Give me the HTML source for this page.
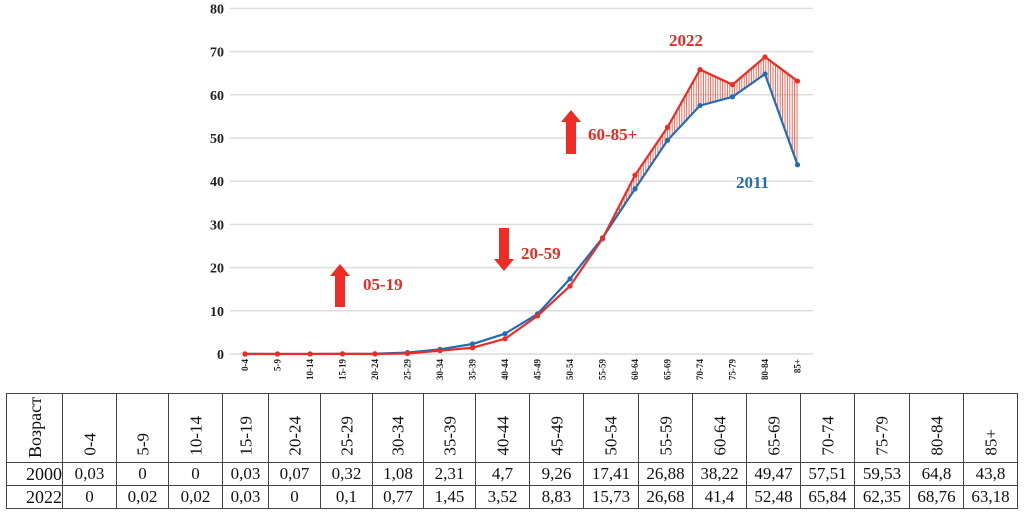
<!DOCTYPE html>
<html><head><meta charset="utf-8"><style>
body{margin:0;background:#fff;width:1024px;height:518px;overflow:hidden;font-family:"Liberation Serif",serif}
svg{position:absolute;left:0;top:0}
table{position:absolute;left:6px;top:393px;border-collapse:collapse;font-family:"Liberation Serif",serif;font-size:17px;table-layout:fixed}
td{border:1px solid #444;padding:0;text-align:center;color:#111;font-family:"Liberation Serif",serif;overflow:hidden;white-space:nowrap}
.hb{height:68px;position:relative;overflow:hidden}
.db{height:22px;line-height:22px;overflow:hidden}
.rot{position:absolute;left:50%;bottom:6px;writing-mode:vertical-rl;transform:translateX(-50%) rotate(180deg);font-family:"Liberation Serif",serif;font-size:17px;line-height:1}
.rot.top{bottom:auto;top:3px;font-size:18px}
</style></head><body>
<svg id="chart" width="1024" height="390"></svg>
<table id="tbl"></table>
<script>
const categories=["0-4","5-9","10-14","15-19","20-24","25-29","30-34","35-39","40-44","45-49","50-54","55-59","60-64","65-69","70-74","75-79","80-84","85+"];
const series2000=[0.03,0,0,0.03,0.07,0.32,1.08,2.31,4.7,9.26,17.41,26.88,38.22,49.47,57.51,59.53,64.8,43.8];
const series2022=[0,0.02,0.02,0.03,0,0.1,0.77,1.45,3.52,8.83,15.73,26.68,41.4,52.48,65.84,62.35,68.76,63.18];
const label2000=["0,03","0","0","0,03","0,07","0,32","1,08","2,31","4,7","9,26","17,41","26,88","38,22","49,47","57,51","59,53","64,8","43,8"];
const label2022=["0","0,02","0,02","0,03","0","0,1","0,77","1,45","3,52","8,83","15,73","26,68","41,4","52,48","65,84","62,35","68,76","63,18"];
const yTicks=[0,10,20,30,40,50,60,70,80];
const colW=[56,54,52,54,46,52,52,51,52,54,54,55,54,54,54,54,55,54,54];
const NS="http://www.w3.org/2000/svg";
const svg=document.getElementById('chart');
const x=i=>245+i*32.5;
const y=v=>354-v*4.32;
function mk(t,a,p){const e=document.createElementNS(NS,t);for(const k in a)e.setAttribute(k,a[k]);(p||svg).appendChild(e);return e;}
yTicks.forEach(v=>{
 const l=mk('line',{x1:230,x2:813,y1:y(v),y2:y(v),stroke:'#dcdcdc','stroke-width':1.5});
 
 
 const t=mk('text',{x:224,y:y(v)+5,'text-anchor':'end','font-size':14,'font-weight':'bold',fill:'#222'});
 t.textContent=v;
 
 
});
categories.forEach((c,i)=>{
 const t=mk('text',{transform:`translate(${x(i)+3},359) rotate(-90)`,'text-anchor':'end','font-size':9,'font-weight':'bold',fill:'#222'});
 t.textContent=c;
 
 
});
const g=mk('g',{stroke:'#ef5a4a','stroke-width':0.9});


for(let px=x(0);px<=x(17);px+=2.4){
 const f=(px-245)/32.5,i=Math.min(16,Math.floor(f)),r=f-i;
 const a=series2000[i]+(series2000[i+1]-series2000[i])*r;
 const b=series2022[i]+(series2022[i+1]-series2022[i])*r;
 if(b-a>0.5&&i>=11) mk('line',{x1:px,x2:px,y1:y(a),y2:y(b)},g);
}
function line(data,col,name){
 const p=mk('polyline',{points:data.map((v,i)=>x(i)+','+y(v)).join(' '),fill:'none',stroke:col,'stroke-width':2.2});
 
 
 data.forEach((v,i)=>{const c=mk('circle',{cx:x(i),cy:y(v),r:2.6,fill:col});
 
 });
}
line(series2000,'#1f6db5','series-2011');
line(series2022,'#ee2b24','series-2022');
function txt(s,X,Y,col,n){const t=mk('text',{x:X,y:Y,'font-size':17,'font-weight':'bold',fill:col});t.textContent=s;
 
 }
txt('2022',669,46,'#e62a24','label-2022');
txt('2011',736,188,'#1f6db5','label-2011');
txt('05-19',363,290,'#e62a24','label-05-19');
txt('20-59',521,259,'#e62a24','label-20-59');
txt('60-85+',588,140,'#e62a24','label-60-85');
function arrow(X,Yt,Yb,up,n){
 const w=5,hw=10,hh=12;
 const pts=up?[[X,Yt],[X+hw,Yt+hh],[X+w,Yt+hh],[X+w,Yb],[X-w,Yb],[X-w,Yt+hh],[X-hw,Yt+hh]]
  :[[X,Yb],[X+hw,Yb-hh],[X+w,Yb-hh],[X+w,Yt],[X-w,Yt],[X-w,Yb-hh],[X-hw,Yb-hh]];
 const p=mk('polygon',{points:pts.map(q=>q.join(',')).join(' '),fill:'#ee2b24'});
 
 
}
arrow(340,264,307,true,'arrow-up-05-19');
arrow(504,228,271,false,'arrow-down-20-59');
arrow(571,110,154,true,'arrow-up-60-85');
const tb=document.getElementById('tbl');
const h=document.createElement('tr');


["Возраст"].concat(categories).forEach((c,i)=>{const td=document.createElement('td');td.style.width=(colW[i]-1)+'px';
 
 
 td.innerHTML='<div class="hb"><span class="rot'+(i==0?' top':'')+'">'+c+'</span></div>';h.appendChild(td);});
tb.appendChild(h);
[["2000",label2000],["2022",label2022]].forEach(([yr,arr])=>{
 const tr=document.createElement('tr');
 
 
 [yr].concat(arr).forEach((v,i)=>{const td=document.createElement('td');
  td.innerHTML='<div class="db"'+(i==0?' style="text-align:right;font-size:18px"':'')+'>'+v+'</div>';
  
  
  tr.appendChild(td);});
 tb.appendChild(tr);
});
</script>
</body></html>
